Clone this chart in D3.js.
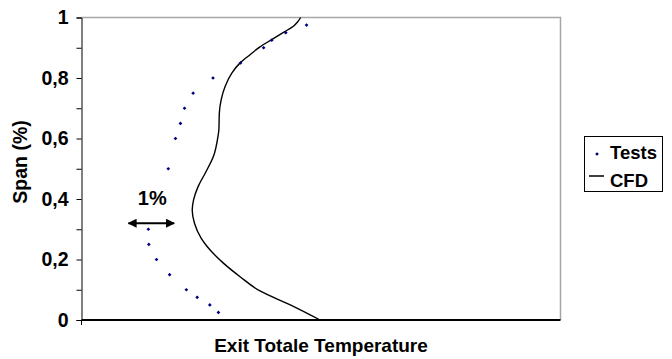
<!DOCTYPE html>
<html>
<head>
<meta charset="utf-8">
<script src="https://cdn.jsdelivr.net/npm/d3@7"></script>
<style>
  body { margin: 0; background: #fff; }
  svg text { font-family: Arial, "Liberation Sans", sans-serif; font-weight: bold; fill: #000; }
</style>
</head>
<body>
<div id="chart"></div>
<script>
// span positions (0..1) and exit temperature, in % units (1 unit = the "1%" arrow)
const testSpan = [0.975, 0.95, 0.925, 0.9, 0.85, 0.8, 0.75, 0.7, 0.65, 0.6, 0.5, 0.3, 0.25, 0.2, 0.15, 0.1, 0.075, 0.05, 0.025];
const testTemp = [4.98, 4.52, 4.21, 4.03, 3.52, 2.91, 2.47, 2.28, 2.19, 2.08, 1.92, 1.48, 1.49, 1.66, 1.95, 2.32, 2.56, 2.84, 3.03];

const cfdSpan = [1.0, 0.985, 0.971, 0.951, 0.927, 0.903, 0.877, 0.85, 0.817, 0.773, 0.728, 0.684, 0.629, 0.607, 0.541, 0.486, 0.441, 0.397, 0.364, 0.32, 0.27, 0.243, 0.188, 0.143, 0.096, 0.05, 0.0];
const cfdTemp = [4.85, 4.78, 4.69, 4.47, 4.21, 3.95, 3.73, 3.51, 3.33, 3.18, 3.09, 3.05, 3.04, 3.02, 2.92, 2.74, 2.58, 2.48, 2.45, 2.50, 2.65, 2.78, 3.14, 3.51, 3.95, 4.62, 5.28];

const yTicks = [0, 0.2, 0.4, 0.6, 0.8, 1];
const yMinorTicks = [0.1, 0.3, 0.5, 0.7, 0.9];
const arrowFrom = 1.04, arrowTo = 2.05, arrowSpan = 0.32;
const seriesNames = ['Tests', 'CFD'];

const width = 672, height = 359;
const plot = { left: 81.5, right: 560.5, top: 17.5, bottom: 320 };

const fr = d3.formatLocale({ decimal: ',', thousands: ' ', grouping: [3], currency: ['', ' €'] });
const fmt = fr.format('~g');

const x = d3.scaleLinear().domain([0, 10.6]).range([plot.left, plot.right]);
const y = d3.scaleLinear().domain([0, 1]).range([plot.bottom, plot.top]);

const svg = d3.select('#chart').append('svg')
  .attr('width', width).attr('height', height);

// arrow heads
svg.append('defs').append('marker')
  .attr('id', 'head').attr('viewBox', '0 0 10 10')
  .attr('refX', 9).attr('refY', 5)
  .attr('markerWidth', 4.5).attr('markerHeight', 4.5)
  .attr('markerUnits', 'strokeWidth')
  .attr('orient', 'auto-start-reverse')
  .append('path').attr('d', 'M0,0 L10,5 L0,10 z').attr('fill', '#000');

// plot frame: grey top and right edges
svg.append('path')
  .attr('d', `M${plot.left},${plot.top}H${plot.right}V${plot.bottom}`)
  .attr('fill', 'none').attr('stroke', '#a6a6a6').attr('stroke-width', 1.5);

// y axis
const yAxis = svg.append('g')
  .attr('transform', `translate(${plot.left},0)`)
  .call(d3.axisLeft(y).tickValues(yTicks).tickSize(5).tickPadding(8).tickFormat(fmt));
yAxis.select('.domain').attr('stroke', '#000');
yAxis.selectAll('.tick line').attr('stroke', '#000');
yAxis.selectAll('.tick text').style('font-size', '19.5px').attr('font-family', null).attr('fill', '#000');

svg.append('g')
  .attr('transform', `translate(${plot.left},0)`)
  .call(d3.axisLeft(y).tickValues(yMinorTicks).tickSize(5).tickFormat(''))
  .call(g => g.select('.domain').remove())
  .selectAll('.tick line').attr('stroke', '#000');

// x axis (no labels)
svg.append('line')
  .attr('x1', plot.left).attr('x2', plot.right)
  .attr('y1', plot.bottom).attr('y2', plot.bottom)
  .attr('stroke', '#000').attr('stroke-width', 2);
svg.append('line')
  .attr('x1', plot.left).attr('x2', plot.left)
  .attr('y1', plot.bottom).attr('y2', plot.bottom + 5)
  .attr('stroke', '#000');

// CFD line
const cfd = cfdSpan.map((s, i) => ({ s, t: cfdTemp[i] }));
svg.append('path')
  .datum(cfd)
  .attr('fill', 'none').attr('stroke', '#000').attr('stroke-width', 1.4)
  .attr('d', d3.line().x(d => x(d.t)).y(d => y(d.s)).curve(d3.curveMonotoneY));

// test points
const tests = testSpan.map((s, i) => ({ s, t: testTemp[i] }));
svg.append('g').selectAll('path')
  .data(tests).enter().append('path')
  .attr('d', d3.symbol(d3.symbolSquare, 7))
  .attr('transform', d => `translate(${x(d.t)},${y(d.s)}) rotate(45)`)
  .attr('fill', '#000080');

// 1% arrow
svg.append('line')
  .attr('x1', x(arrowFrom)).attr('x2', x(arrowTo))
  .attr('y1', y(arrowSpan)).attr('y2', y(arrowSpan))
  .attr('stroke', '#000').attr('stroke-width', 2)
  .attr('marker-start', 'url(#head)').attr('marker-end', 'url(#head)');
svg.append('text')
  .attr('x', x((arrowFrom + arrowTo) / 2) + 1).attr('y', 205)
  .attr('text-anchor', 'middle').style('font-size', '20px')
  .text('1%');

// axis titles
svg.append('text')
  .attr('x', (plot.left + plot.right) / 2).attr('y', 351.5)
  .attr('text-anchor', 'middle').style('font-size', '19px')
  .text('Exit Totale Temperature');
svg.append('text')
  .attr('transform', `translate(26.5,162) rotate(-90)`)
  .attr('text-anchor', 'middle').style('font-size', '19.5px')
  .text('Span (%)');

// legend
const legend = svg.append('g').attr('transform', 'translate(584.5,136.5)');
legend.append('rect')
  .attr('width', 78).attr('height', 55)
  .attr('fill', '#fff').attr('stroke', '#000').attr('stroke-width', 1);
legend.append('path')
  .attr('d', d3.symbol(d3.symbolSquare, 7))
  .attr('transform', 'translate(12.5,17.5) rotate(45)')
  .attr('fill', '#000080');
legend.append('line')
  .attr('x1', 4.5).attr('x2', 19.5).attr('y1', 39.5).attr('y2', 39.5)
  .attr('stroke', '#000').attr('stroke-width', 1.5);
legend.selectAll('text.lbl')
  .data(seriesNames).enter().append('text')
  .attr('class', 'lbl')
  .attr('x', 25.5).attr('y', (d, i) => 22.5 + i * 28)
  .style('font-size', '18.5px')
  .text(d => d);
</script>
</body>
</html>
